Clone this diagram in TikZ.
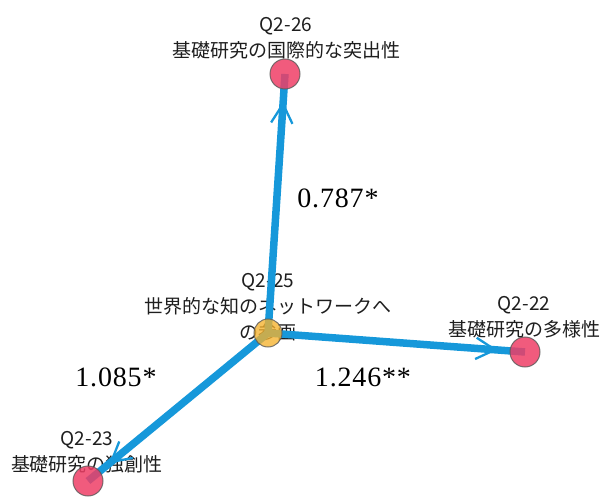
\documentclass[tikz,border=0pt]{standalone}
\usepackage{fontspec}
\newfontfamily\jpfont{Noto Sans CJK JP}
\newfontfamily\numfont[LetterSpace=3]{Liberation Serif}
\usetikzlibrary{calc}
\definecolor{edgeblue}{RGB}{22,152,218}
\definecolor{nodered}{RGB}{238,62,102}
\definecolor{nodeorange}{RGB}{245,178,45}
\definecolor{nodeborder}{RGB}{90,90,90}
\definecolor{txt}{RGB}{30,30,30}
\pgfdeclarelayer{textlayer}
\pgfdeclarelayer{edgelayer}
\pgfsetlayers{textlayer,edgelayer,main}
\begin{document}
\begin{tikzpicture}[x=1pt,y=-1pt,
  vnode/.style={circle, minimum size=30pt, inner sep=0pt, draw=nodeborder, line width=1pt, fill opacity=0.85, draw opacity=0.8},
  rednode/.style={vnode, fill=nodered},
  orangenode/.style={vnode, fill=nodeorange, minimum size=28pt, fill opacity=0.78},
  edgeline/.style={draw=edgeblue, line width=7.5pt},
  arrowv/.style={draw=edgeblue, line width=2.3pt},
  qlabel/.style={font=\jpfont\fontsize{19}{26}\selectfont, text=txt, align=center, inner sep=0pt},
  numlabel/.style={font=\numfont\fontsize{28}{30}\selectfont, text=black, anchor=base, inner sep=0pt}]
\useasboundingbox (0,0) rectangle (603,497);

% vertices
\node[orangenode] (c25) at (268,333) {};
\node[rednode] (n26) at (285,74) {};
\node[rednode] (n22) at (525,352) {};
\node[rednode] (n23) at (88,481) {};

% labels (under everything)
\begin{pgfonlayer}{textlayer}
\node[qlabel] (l26) at (286,38) {Q2-26\\基礎研究の国際的な突出性};
\node[qlabel] (l25) at (268,307) {Q2-25\\世界的な知のネットワークへ\\の参画};
\node[qlabel] (l22) at (524,317) {Q2-22\\基礎研究の多様性};
\node[qlabel] (l23) at (87,452) {Q2-23\\基礎研究の独創性};
\end{pgfonlayer}

% edges
\begin{pgfonlayer}{edgelayer}
\draw[edgeline] (c25.center) -- (n26.center);
\draw[edgeline] (c25.center) -- (n22.center);
\draw[edgeline] (c25.center) -- (n23.center);
\coordinate (t26) at ($(n26.center)!30pt!(c25.center)$);
\coordinate (t22) at ($(n22.center)!30pt!(c25.center)$);
\coordinate (t23) at ($(n23.center)!30pt!(c25.center)$);
\draw[arrowv] ($(t26)!22pt!29:(c25.center)$) -- (t26) -- ($(t26)!22pt!-29:(c25.center)$);
\draw[arrowv] ($(t22)!22pt!29:(c25.center)$) -- (t22) -- ($(t22)!22pt!-29:(c25.center)$);
\draw[arrowv] ($(t23)!22pt!29:(c25.center)$) -- (t23) -- ($(t23)!22pt!-29:(c25.center)$);
\end{pgfonlayer}

% edge weights
\node[numlabel] (w26) at (338,208) {0.787*};
\node[numlabel] (w23) at (116,386.5) {1.085*};
\node[numlabel] (w22) at (363,386.5) {1.246**};
\end{tikzpicture}
\end{document}
